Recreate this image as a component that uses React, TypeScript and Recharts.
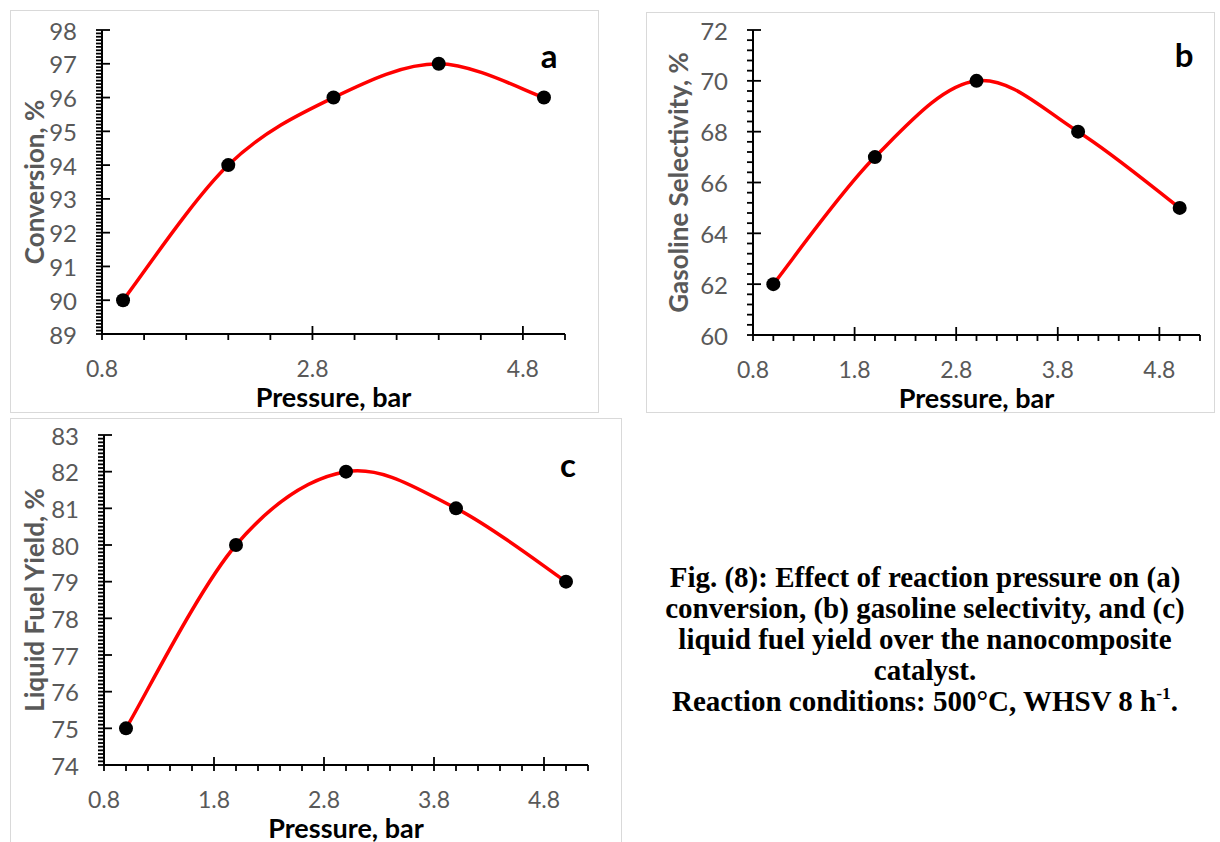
import React from "react"
import { LineChart, Line, XAxis, YAxis } from "recharts"

// Pressure sweep (bar) and the three measured responses
const pressure = [1, 2, 3, 4, 5]
const conversion = [90, 94, 96, 97, 96]
const gasolineSelectivity = [62, 67, 70, 68, 65]
const liquidFuelYield = [75, 80, 82, 81, 79]

// Major tick labels for each panel
const xMajorA = [0.8, 2.8, 4.8]
const xMajorBC = [0.8, 1.8, 2.8, 3.8, 4.8]
const yMajorA = [89, 90, 91, 92, 93, 94, 95, 96, 97, 98]
const yMajorB = [60, 62, 64, 66, 68, 70, 72]
const yMajorC = [74, 75, 76, 77, 78, 79, 80, 81, 82, 83]

const TICK_FONT = "Lato, 'Open Sans', sans-serif"
const AXIS_GRAY = "#595959"

// minor tick positions between lo and hi
const steps = (lo: number, hi: number, step: number) => {
  const out: number[] = []
  const n = Math.round((hi - lo) / step)
  for (let i = 0; i <= n; i++) out.push(Math.round((lo + i * step) * 100) / 100)
  return out
}

const isMajor = (majors: number[], v: number) => majors.some((m) => Math.abs(m - v) < 1e-6)

// Excel-style smoothed line (uniform Catmull-Rom as cubic beziers)
const smoothCurve = (context: any) => {
  let pts: [number, number][] = []
  return {
    areaStart() {},
    areaEnd() {},
    lineStart() {
      pts = []
    },
    point(x: number, y: number) {
      pts.push([+x, +y])
    },
    lineEnd() {
      if (!pts.length) return
      context.moveTo(pts[0][0], pts[0][1])
      for (let i = 0; i < pts.length - 1; i++) {
        const p0 = pts[i - 1] ?? pts[i]
        const p1 = pts[i]
        const p2 = pts[i + 1]
        const p3 = pts[i + 2] ?? p2
        context.bezierCurveTo(
          p1[0] + (p2[0] - p0[0]) / 6,
          p1[1] + (p2[1] - p0[1]) / 6,
          p2[0] - (p3[0] - p1[0]) / 6,
          p2[1] - (p3[1] - p1[1]) / 6,
          p2[0],
          p2[1]
        )
      }
    },
  }
}

const YTick = ({ x, y, payload, majors }: any) => {
  const major = isMajor(majors, payload.value)
  return (
    <g>
      <line x1={x - 6} x2={major ? x + 8 : x} y1={y} y2={y} stroke="#000" strokeWidth={1.8} />
      {major && (
        <text
          x={x - 25}
          y={y}
          textAnchor="end"
          dominantBaseline="central"
          fill={AXIS_GRAY}
          fontFamily={TICK_FONT}
          fontSize={24}
        >
          {payload.value}
        </text>
      )}
    </g>
  )
}

const XTick = ({ x, y, payload, majors }: any) => {
  const major = isMajor(majors, payload.value)
  return (
    <g>
      <line x1={x} x2={x} y1={major ? y - 8 : y} y2={y + 6} stroke="#000" strokeWidth={1.8} />
      {major && (
        <text
          x={x}
          y={y + 34}
          textAnchor="middle"
          dominantBaseline="central"
          fill={AXIS_GRAY}
          fontFamily={TICK_FONT}
          fontSize={23}
        >
          {payload.value.toFixed(1)}
        </text>
      )}
    </g>
  )
}

interface PanelProps {
  left: number
  top: number
  width: number
  height: number
  plot: { left: number; top: number; right: number; bottom: number }
  values: number[]
  yDomain: [number, number]
  yMajors: number[]
  yMinorStep: number
  xMajors: number[]
  xMinorStep: number
  yTitle: string
  yTitleX: number
  letter: string
  letterX: number
  letterY: number
}

const Y_AXIS_W = 50
const X_AXIS_H = 40

function Panel(p: PanelProps) {
  const data = pressure.map((x, i) => ({ x, y: p.values[i] }))
  const yTicks = steps(p.yDomain[0], p.yDomain[1], p.yMinorStep)
  const xTicks = steps(0.8, 5.2, p.xMinorStep)
  return (
    <div
      style={{
        position: "absolute",
        left: p.left,
        top: p.top,
        width: p.width,
        height: p.height,
        border: "1px solid #d9d9d9",
        boxSizing: "border-box",
        background: "#fff",
      }}
    >
      <div style={{ position: "absolute", left: -1, top: -1 }}>
        <LineChart
          width={p.width}
          height={p.height}
          data={data}
          margin={{
            left: p.plot.left - Y_AXIS_W,
            top: p.plot.top,
            right: p.plot.right,
            bottom: p.plot.bottom - X_AXIS_H,
          }}
        >
          <XAxis
            dataKey="x"
            type="number"
            domain={[0.8, 5.2]}
            ticks={xTicks}
            interval={0}
            height={X_AXIS_H}
            tickSize={0}
            tickMargin={0}
            tickLine={false}
            axisLine={{ stroke: "#000", strokeWidth: 2 }}
            tick={(t: any) => <XTick {...t} majors={p.xMajors} />}
            label={{
              content: (lp: any) => {
                const vb = lp.viewBox
                return (
                  <text
                    x={vb.x + vb.width / 2}
                    y={vb.y + 62}
                    textAnchor="middle"
                    dominantBaseline="central"
                    fontFamily={TICK_FONT}
                    fontWeight={700}
                    fontSize={27}
                    fill="#000"
                  >
                    Pressure, bar
                  </text>
                )
              },
            }}
          />
          <YAxis
            type="number"
            domain={p.yDomain}
            ticks={yTicks}
            interval={0}
            width={Y_AXIS_W}
            tickSize={0}
            tickMargin={0}
            tickLine={false}
            axisLine={{ stroke: "#000", strokeWidth: 2 }}
            tick={(t: any) => <YTick {...t} majors={p.yMajors} />}
            label={{
              content: (lp: any) => {
                const vb = lp.viewBox
                const cy = vb.y + vb.height / 2
                return (
                  <text
                    x={p.yTitleX}
                    y={cy}
                    transform={`rotate(-90, ${p.yTitleX}, ${cy})`}
                    textAnchor="middle"
                    dominantBaseline="central"
                    fontFamily={TICK_FONT}
                    fontWeight={700}
                    fontSize={26}
                    fill={AXIS_GRAY}
                  >
                    {p.yTitle}
                  </text>
                )
              },
            }}
          />
          <Line
            dataKey="y"
            type={smoothCurve as any}
            stroke="#ff0000"
            strokeWidth={3.5}
            dot={{ r: 7, fill: "#000", stroke: "#000", strokeWidth: 0 }}
            isAnimationActive={false}
          />
        </LineChart>
      </div>
      <div
        style={{
          position: "absolute",
          left: p.letterX,
          top: p.letterY,
          transform: "translate(-50%, -50%)",
          fontFamily: TICK_FONT,
          fontWeight: 700,
          fontSize: 33,
          lineHeight: 1,
          color: "#000",
        }}
      >
        {p.letter}
      </div>
    </div>
  )
}

export default function App() {
  return (
    <div
      style={{
        position: "absolute",
        left: 0,
        top: 0,
        width: 1220,
        height: 842,
        background: "#fff",
        overflow: "hidden",
      }}
    >
      <Panel
        left={10}
        top={10}
        width={589}
        height={403}
        plot={{ left: 92, top: 20, right: 34, bottom: 79 }}
        values={conversion}
        yDomain={[89, 98]}
        yMajors={yMajorA}
        yMinorStep={0.1}
        xMajors={xMajorA}
        xMinorStep={0.4}
        yTitle="Conversion, %"
        yTitleX={24}
        letter="a"
        letterX={538}
        letterY={44}
      />
      <Panel
        left={646}
        top={12}
        width={569}
        height={401}
        plot={{ left: 107, top: 18, right: 15, bottom: 78 }}
        values={gasolineSelectivity}
        yDomain={[60, 72]}
        yMajors={yMajorB}
        yMinorStep={0.4}
        xMajors={xMajorBC}
        xMinorStep={0.2}
        yTitle="Gasoline Selectivity, %"
        yTitleX={32}
        letter="b"
        letterX={537}
        letterY={41}
      />
      <Panel
        left={10}
        top={418}
        width={612}
        height={430}
        plot={{ left: 94, top: 17, right: 34, bottom: 83 }}
        values={liquidFuelYield}
        yDomain={[74, 83]}
        yMajors={yMajorC}
        yMinorStep={0.1}
        xMajors={xMajorBC}
        xMinorStep={0.2}
        yTitle="Liquid Fuel Yield, %"
        yTitleX={24}
        letter="c"
        letterX={557}
        letterY={45}
      />
      <div
        style={{
          position: "absolute",
          left: 600,
          top: 562,
          width: 650,
          textAlign: "center",
          fontFamily: "'Liberation Serif', 'Times New Roman', serif",
          fontWeight: 700,
          fontSize: 29,
          lineHeight: "31px",
          color: "#000",
        }}
      >
        Fig. (8): Effect of reaction pressure on (a)
        <br />
        conversion, (b) gasoline selectivity, and (c)
        <br />
        liquid fuel yield over the nanocomposite
        <br />
        catalyst.
        <br />
        Reaction conditions: 500°C, WHSV 8 h
        <sup style={{ fontSize: "0.6em", lineHeight: 0, verticalAlign: "0.7em" }}>-1</sup>.
      </div>
    </div>
  )
}
